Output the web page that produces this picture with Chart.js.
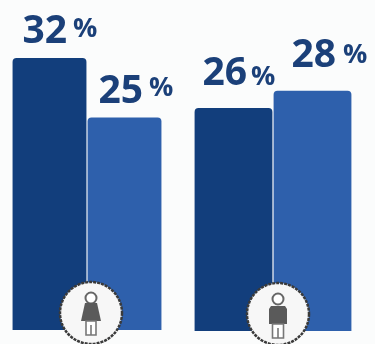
<!DOCTYPE html>
<html>
<head>
<meta charset="utf-8">
<title>Chart</title>
<script src="https://cdn.jsdelivr.net/npm/chart.js@4"></script>
<style>
  html, body { margin: 0; padding: 0; background: #fbfcfc; overflow: hidden; }
  #wrap { position: relative; width: 375px; height: 344px; }
  canvas { position: absolute; top: 0; }
  #chartWomen { left: 0; }
  #chartMen { left: 180px; }
</style>
</head>
<body>
<div id="wrap">
  <canvas id="chartWomen" width="180" height="344"></canvas>
  <canvas id="chartMen" width="195" height="344"></canvas>
</div>
<script>
const categories = ["Dark", "Light"];
const womenValues = [32, 25];
const menValues = [26, 28];
const barColors = ["#123e7c", "#2e60ac"];
const TEXT_COLOR = "#1b4079";
const Y_MAX = 38;

// number + percent sign above each bar; offsets are relative to the bar's top centre
function valueLabels(offsets) {
  return {
    id: "valueLabels",
    afterDatasetsDraw(chart) {
      const ctx = chart.ctx;
      const values = chart.data.datasets[0].data;
      chart.getDatasetMeta(0).data.forEach((bar, i) => {
        const o = offsets[i];
        const x = bar.x + o.dx;
        const y = bar.y + o.dy;
        ctx.save();
        ctx.fillStyle = TEXT_COLOR;
        ctx.textBaseline = "alphabetic";
        ctx.textAlign = "left";
        ctx.font = "700 39px 'Open Sans'";
        const txt = String(values[i]);
        ctx.fillText(txt, x, y);
        const w = ctx.measureText(txt).width;
        ctx.font = "700 27px 'Open Sans'";
        ctx.fillText("%", x + w + o.gap, y + o.pctDy);
        ctx.restore();
      });
    }
  };
}

// white badge with a small person, sits over the base of the pair
function personBadge(cfg) {
  return {
    id: "personBadge",
    afterDraw(chart) {
      const ctx = chart.ctx;
      const { cx, cy, r, female } = cfg;
      ctx.save();
      ctx.beginPath();
      ctx.arc(cx, cy, r, 0, Math.PI * 2);
      ctx.fillStyle = "#f7f7f7";
      ctx.fill();
      ctx.lineWidth = 2.5;
      ctx.strokeStyle = "#3a3a3a";
      ctx.setLineDash([3, 1]);
      ctx.stroke();
      ctx.setLineDash([]);

      ctx.strokeStyle = "#666";
      ctx.lineWidth = 2;
      ctx.beginPath();
      ctx.arc(cx, cy - 15, 5.5, 0, Math.PI * 2);
      ctx.fillStyle = "#fff";
      ctx.fill();
      ctx.stroke();

      ctx.fillStyle = "#5a5a5a";
      ctx.beginPath();
      if (female) {
        ctx.moveTo(cx - 6, cy - 10);
        ctx.lineTo(cx + 6, cy - 10);
        ctx.lineTo(cx + 10, cy + 8);
        ctx.lineTo(cx - 10, cy + 8);
      } else {
        ctx.moveTo(cx - 7, cy - 8);
        ctx.lineTo(cx + 7, cy - 8);
        ctx.lineTo(cx + 9, cy - 5);
        ctx.lineTo(cx + 9, cy + 10);
        ctx.lineTo(cx - 9, cy + 10);
        ctx.lineTo(cx - 9, cy - 5);
      }
      ctx.closePath();
      ctx.fill();

      const legTop = female ? cy + 8 : cy + 10;
      const legW = female ? 5 : 5.5;
      ctx.fillStyle = "#fff";
      ctx.strokeStyle = "#777";
      ctx.lineWidth = 1.6;
      ctx.beginPath();
      ctx.rect(cx - legW, legTop, legW * 2, 14);
      ctx.fill();
      ctx.stroke();
      ctx.beginPath();
      ctx.moveTo(cx, legTop + 4);
      ctx.lineTo(cx, legTop + 14);
      ctx.stroke();
      ctx.restore();
    }
  };
}

function makeChart(canvasId, values, padding, plugins) {
  return new Chart(document.getElementById(canvasId), {
    type: "bar",
    data: {
      labels: categories,
      datasets: [{
        data: values,
        backgroundColor: barColors,
        borderRadius: { topLeft: 4, topRight: 4, bottomLeft: 0, bottomRight: 0 },
        borderSkipped: false,
        barPercentage: 0.985,
        categoryPercentage: 1
      }]
    },
    options: {
      responsive: false,
      animation: false,
      layout: { padding },
      plugins: { legend: { display: false }, tooltip: { enabled: false } },
      scales: {
        x: { display: false },
        y: { display: false, min: 0, max: Y_MAX }
      }
    },
    plugins
  });
}

makeChart("chartWomen", womenValues,
  { left: 12, right: 18, top: 7, bottom: 14 },
  [
    valueLabels([
      { dx: -27, dy: -15, gap: 6, pctDy: -6 },
      { dx: -26, dy: -15, gap: 6, pctDy: -7 }
    ]),
    personBadge({ cx: 91, cy: 313, r: 31, female: true })
  ]);

makeChart("chartMen", menValues,
  { left: 14, right: 23, top: 5, bottom: 13 },
  [
    valueLabels([
      { dx: -31, dy: -23, gap: 4, pctDy: 0 },
      { dx: -21, dy: -24, gap: 7, pctDy: -4 }
    ]),
    personBadge({ cx: 98, cy: 314, r: 31, female: false })
  ]);
</script>
</body>
</html>
